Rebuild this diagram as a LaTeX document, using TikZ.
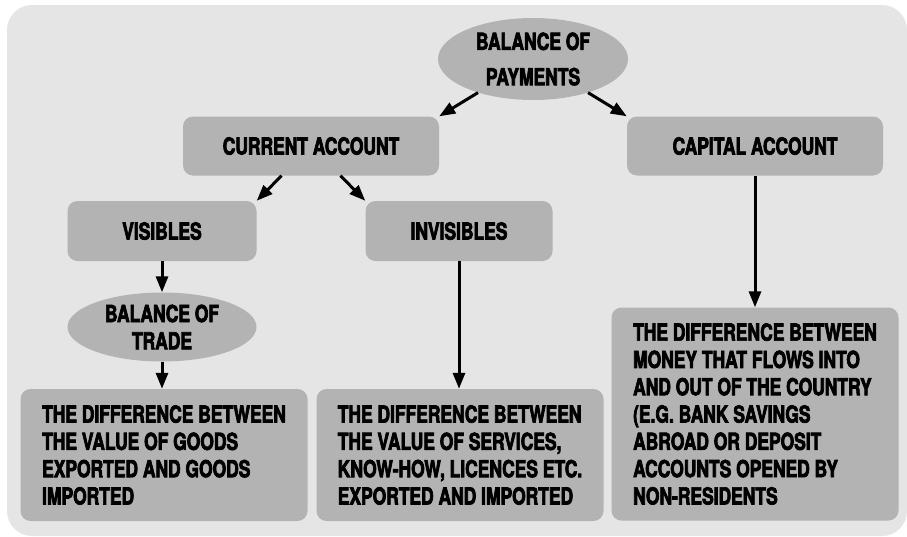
\documentclass[tikz,border=0pt]{standalone}
\usepackage{fontspec}
\newfontfamily\heavy{TeX Gyre Heros}[FakeStretch=0.745,FakeBold=3]
\usetikzlibrary{shapes.geometric,arrows.meta}
\definecolor{bg}{RGB}{229,229,229}
\definecolor{nd}{RGB}{179,179,179}

\begin{document}
\begin{tikzpicture}[x=1pt,y=-1pt,
    blk/.style={rectangle,fill=nd,rounded corners=10pt,minimum height=59pt,inner sep=0pt,font=\heavy\bfseries\fontsize{23.4}{27.3}\selectfont},
    ell/.style={ellipse,fill=nd,inner sep=0pt,align=center,font=\heavy\bfseries\fontsize{23.4}{27.3}\selectfont},
    txt/.style={blk,align=left,minimum width=287pt},
    arr/.style={-{Triangle[length=16pt,width=12pt]},line width=3pt},
]
\useasboundingbox (0,0) rectangle (907,536);
\fill[bg,rounded corners=25pt] (7,5) rectangle (907,536);

\node[ell,minimum width=190pt,minimum height=82pt] (bop) at (533,59) {BALANCE OF\\[8pt]PAYMENTS};

\node[blk,minimum width=256pt] (cur) at (311,146) {CURRENT ACCOUNT};
\node[blk,minimum width=256pt] (cap) at (755,146) {CAPITAL ACCOUNT};

\node[blk,minimum width=189pt,minimum height=60pt] (vis) at (162,231) {VISIBLES};
\node[blk,minimum width=187pt,minimum height=60pt] (inv) at (459,231) {INVISIBLES};

\node[ell,minimum width=189pt,minimum height=69pt] (bot) at (162,327) {BALANCE OF\\TRADE};

% description boxes, lines broken by hand
\node[txt,minimum height=132pt] (t1) at (164,455) {THE DIFFERENCE BETWEEN\\THE VALUE OF GOODS\\EXPORTED AND GOODS\\IMPORTED};
\node[txt,minimum height=132pt] (t2) at (460,455) {THE DIFFERENCE BETWEEN\\THE VALUE OF SERVICES,\\KNOW-HOW, LICENCES ETC.\\EXPORTED AND IMPORTED};
\node[txt,minimum height=213pt] (t3) at (755,414) {THE DIFFERENCE BETWEEN\\MONEY THAT FLOWS INTO\\AND OUT OF THE COUNTRY\\(E.G. BANK SAVINGS\\ABROAD OR DEPOSIT\\ACCOUNTS OPENED BY\\NON-RESIDENTS};

\draw[arr] (bop) -- (cur.north east); \draw[arr] (bop) -- (cap.north west);
\draw[arr] (cur) -- (vis.north east); \draw[arr] (cur) -- (inv.north west);
\draw[arr] (vis) -- (bot); \draw[arr] (bot) -- (bot |- t1.north);
\draw[arr] (inv) -- (inv |- t2.north);
\draw[arr] (cap) -- (cap |- t3.north);
\end{tikzpicture}
\end{document}
